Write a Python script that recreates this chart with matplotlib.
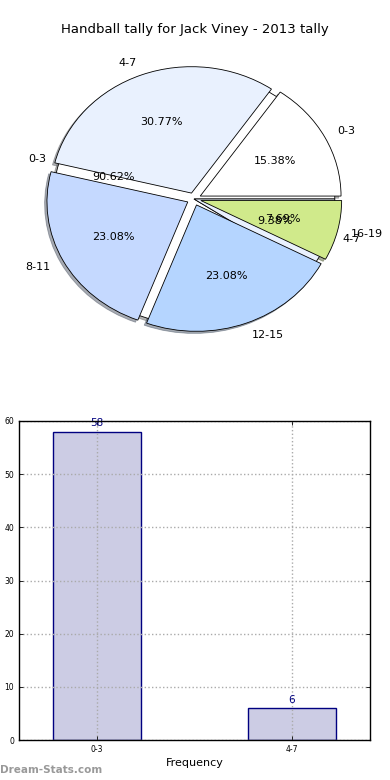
import matplotlib
matplotlib.use("Agg")
import matplotlib.pyplot as plt

title = "Handball tally for Jack Viney - 2013 tally"
pie_labels = ["0-3", "4-7", "8-11", "12-15", "16-19"]
pie_values = [2, 4, 3, 3, 1]
pie_colors = ["#ffffff", "#e9f1fe", "#c5d9ff", "#b5d5ff", "#d0ea8b"]

bar_labels = ["0-3", "4-7"]
bar_values = [58, 6]
bar_pie_colors = ["#ffffff", "#e9f1fe"]

fig = plt.figure(figsize=(3.9, 7.8), dpi=100)

shadow_style = {"ox": -0.012, "oy": -0.012, "shade": 0.6}

# pie axes
ax1 = fig.add_axes([18/390, 1 - 357/780, 352/390, 316/780])
w2 = ax1.pie(bar_values, labels=bar_labels, colors=bar_pie_colors, autopct="%.2f%%",
             shadow=shadow_style, startangle=0,
             wedgeprops=dict(edgecolor="black", linewidth=0.6),
             textprops=dict(fontsize=8))
w1 = ax1.pie(pie_values, labels=pie_labels, colors=pie_colors, autopct="%.2f%%",
             shadow=shadow_style, startangle=0, explode=[0.05]*len(pie_values),
             wedgeprops=dict(edgecolor="black", linewidth=0.6),
             textprops=dict(fontsize=8))
ax1.set_aspect("auto")
ax1.set_xlim(-1.25, 1.25)
ax1.set_ylim(-1.25, 1.25)
fig.text(0.5, 1 - 30/780, title, ha="center", va="center", fontsize=9.5)

# bar axes
ax2 = fig.add_axes([19/390, 1 - 740/780, 351/390, 319/780])
x = list(range(len(bar_values)))
ax2.bar(x, bar_values, width=0.45, color="#ccccE4", edgecolor="#000080", linewidth=1)
for xi, v in zip(x, bar_values):
    ax2.text(xi, v + 0.6, str(v), ha="center", va="bottom", color="#000080", fontsize=7.5)
ax2.set_xlim(-0.4, 1.4)
ax2.set_ylim(0, 60)
ax2.set_xticks(x)
ax2.set_xticklabels(bar_labels)
ax2.set_yticks(range(0, 61, 10))
ax2.tick_params(labelsize=5.5, direction="in", length=3, top=True, right=True, width=0.6)
ax2.grid(True, linestyle=":", color="#aaaaaa", linewidth=1)
ax2.set_axisbelow(False)
ax2.set_xlabel("Frequency", fontsize=8, labelpad=3)
for s in ax2.spines.values():
    s.set_linewidth(1)
    s.set_zorder(5)

fig.text(0/390, 1 - 770/780, "Dream-Stats.com", ha="left", va="center", fontsize=7.5,
         color="#999999", fontweight="bold")

fig.savefig("out.png", dpi=100)
